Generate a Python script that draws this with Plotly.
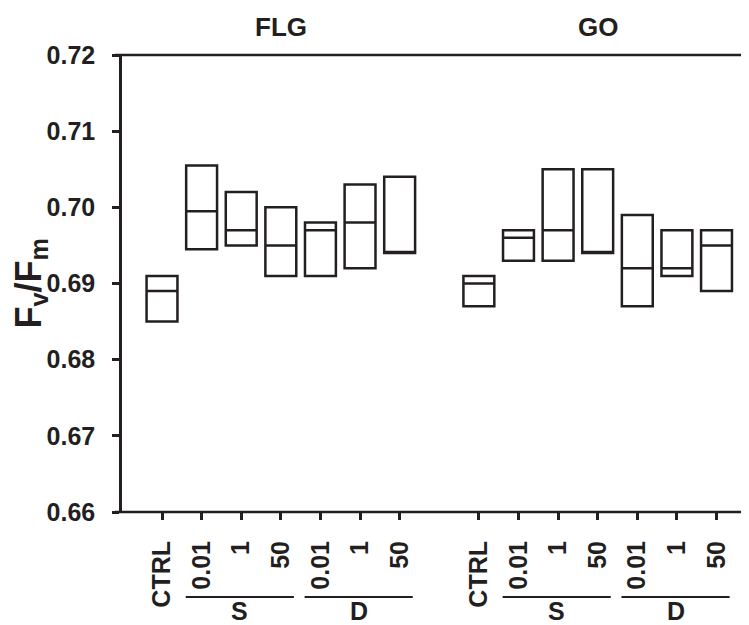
import numpy as np
import plotly.graph_objects as go

# ---- data ----
categories = ["CTRL", "0.01", "1", "50", "0.01", "1", "50"]
group_titles = ["FLG", "GO"]
sub_groups = ["S", "D"]

flg_q1 = [0.6850, 0.6945, 0.6950, 0.6910, 0.6910, 0.6920, 0.6940]
flg_med = [0.6890, 0.6995, 0.6970, 0.6950, 0.6970, 0.6980, 0.6940]
flg_q3 = [0.6910, 0.7055, 0.7020, 0.7000, 0.6980, 0.7030, 0.7040]

go_q1 = [0.6870, 0.6930, 0.6930, 0.6940, 0.6870, 0.6910, 0.6890]
go_med = [0.6900, 0.6960, 0.6970, 0.6940, 0.6920, 0.6920, 0.6950]
go_q3 = [0.6910, 0.6970, 0.7050, 0.7050, 0.6990, 0.6970, 0.6970]

y_ticks = [0.66, 0.67, 0.68, 0.69, 0.70, 0.71, 0.72]

# ---- layout helpers ----
INK = "#231f20"
FONT = "Liberation Sans, Arial, sans-serif"
# page body has an 8px margin, so the figure is sized/positioned to compensate
W, H = 741, 617
ML, MR, MT, MB = 114, 0, 47, 113
PW, PH = W - ML - MR, H - MT - MB

n = len(categories)
flg_x = np.arange(n)
go_x = np.arange(n) + n + 1
all_x = np.concatenate([flg_x, go_x])

fig = go.Figure()
fig.add_trace(go.Box(
    x=all_x,
    q1=flg_q1 + go_q1,
    median=flg_med + go_med,
    q3=flg_q3 + go_q3,
    lowerfence=flg_q1 + go_q1,
    upperfence=flg_q3 + go_q3,
    width=0.78,
    whiskerwidth=0,
    fillcolor="white",
    line=dict(color=INK, width=2.5),
    boxpoints=False,
    hoverinfo="skip",
    showlegend=False,
))

def px_x(p):
    return p / PW

def px_y(p):
    return p / PH

shapes = []
# top and bottom frame lines, extended slightly left like the tick length
for yv in (0, 1):
    shapes.append(dict(type="line", xref="paper", yref="paper",
                       x0=-px_x(7), x1=1, y0=yv, y1=yv,
                       line=dict(color=INK, width=2.5)))

annotations = []
for gi, base in enumerate([flg_x, go_x]):
    # group title
    annotations.append(dict(text=group_titles[gi], x=float(base.mean()), xref="x",
                            y=1 + px_y(28), yref="paper", showarrow=False,
                            xanchor="center", yanchor="middle",
                            font=dict(family=FONT, size=26, color=INK, weight="bold")))
    # S and D brackets
    for si, sg in enumerate(sub_groups):
        xs = base[1 + 3 * si: 4 + 3 * si]
        x0, x1 = float(xs[0]) - 0.4, float(xs[-1]) + 0.33
        shapes.append(dict(type="line", xref="x", yref="paper",
                           x0=x0, x1=x1, y0=-px_y(85), y1=-px_y(85),
                           line=dict(color=INK, width=1.8)))
        annotations.append(dict(text=sg, x=(x0 + x1) / 2, xref="x",
                                y=-px_y(99), yref="paper", showarrow=False,
                                xanchor="center", yanchor="middle",
                                font=dict(family=FONT, size=25, color=INK, weight="bold")))

# y-axis title
annotations.append(dict(text="F<sub>v</sub>/F<sub>m</sub>", x=-px_x(92), xref="paper",
                        y=0.5, yref="paper", showarrow=False, textangle=-90,
                        xanchor="center", yanchor="middle",
                        font=dict(family=FONT, size=36, color=INK, weight="bold")))

fig.update_layout(
    width=W, height=H,
    margin=dict(l=ML, r=MR, t=MT, b=MB, autoexpand=False),
    plot_bgcolor="white", paper_bgcolor="white",
    shapes=shapes, annotations=annotations,
    font=dict(family=FONT, color=INK),
)

fig.update_xaxes(
    range=[-1.01, 14.82],
    tickvals=all_x, ticktext=categories * 2, tickangle=-90,
    ticks="outside", ticklen=7, tickwidth=2.5, tickcolor=INK,
    tickfont=dict(family=FONT, size=25, color=INK, weight="bold"),
    showline=False, showgrid=False, zeroline=False,
    ticklabelstandoff=11,
)
fig.update_yaxes(
    range=[0.66, 0.72],
    tickvals=y_ticks, ticktext=[f"{v:.2f}" for v in y_ticks],
    ticks="outside", ticklen=7, tickwidth=2.5, tickcolor=INK,
    tickfont=dict(family=FONT, size=25, color=INK, weight="bold"),
    showline=True, linewidth=2.5, linecolor=INK,
    showgrid=False, zeroline=False,
    ticklabelstandoff=12,
)

fig.write_html("out.html")
